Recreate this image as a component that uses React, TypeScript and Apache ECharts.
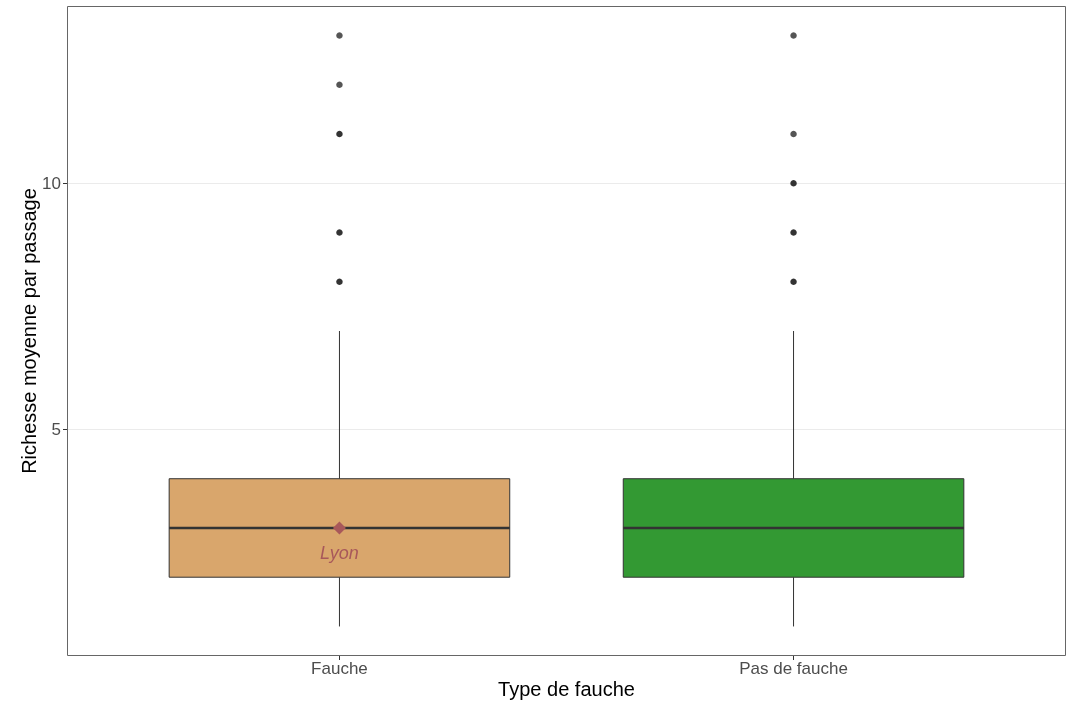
import React, { useEffect, useRef } from "react";
import * as echarts from "echarts";

const categories = ["Fauche", "Pas de fauche"];
// [q1, median, q3, lowerWhisker, upperWhisker]
const boxStats = [
  [2, 3, 4, 1, 7],
  [2, 3, 4, 1, 7],
];
const boxColors = ["#D9A66C", "#339933"];
const outliersFauche = [8, 9, 11, 12, 13];
const outliersPasFauche = [8, 9, 10, 11, 13];
const rareFauche = [12, 13];
const rarePasFauche = [11, 13];
const meanPoint = { category: 1, value: 3, label: "Lyon" };
const yTicks = [5, 10];

export default function App() {
  const ref = useRef<HTMLDivElement>(null);
  useEffect(() => {
    if (!ref.current) return;
    const chart = echarts.init(ref.current, null, { renderer: "svg" });
    const font = "'Liberation Sans', Arial, sans-serif";
    const boxData = boxStats.map((s, i) => [i + 1, ...s]);
    const outlierData: any[] = [];
    outliersFauche.forEach((v) =>
      outlierData.push({ value: [1, v], itemStyle: { color: rareFauche.includes(v) ? "#555555" : "#333333", opacity: 1 } })
    );
    outliersPasFauche.forEach((v) =>
      outlierData.push({ value: [2, v], itemStyle: { color: rarePasFauche.includes(v) ? "#555555" : "#333333", opacity: 1 } })
    );
    chart.setOption({
      animation: false,
      textStyle: { fontFamily: font },
      grid: { left: 67, right: 1, top: 6, bottom: 46, containLabel: false, outerBoundsMode: "none" },
      xAxis: {
        type: "value",
        min: 0.4,
        max: 2.6,
        name: "Type de fauche",
        nameLocation: "middle",
        nameGap: 23,
        nameMoveOverlap: false,
        nameTextStyle: { fontSize: 20, color: "#000", fontFamily: font },
        axisLine: { show: false },
        splitLine: { show: false },
        axisTick: { show: true, customValues: [1, 2], length: 4, lineStyle: { color: "#333" } },
        axisLabel: {
          customValues: [1, 2],
          formatter: (v: number) => categories[Math.round(v) - 1] ?? "",
          fontSize: 17,
          color: "#4d4d4d",
          margin: 4,
          fontFamily: font,
        },
      },
      yAxis: {
        type: "value",
        min: 0.4,
        max: 13.6,
        name: "Richesse moyenne par passage",
        nameLocation: "middle",
        nameGap: 28,
        nameMoveOverlap: false,
        nameTextStyle: { fontSize: 20, color: "#000", fontFamily: font },
        axisLine: { show: false },
        splitLine: { show: true, lineStyle: { color: "#ebebeb", width: 1 } },
        axisTick: { show: true, customValues: yTicks, length: 4, lineStyle: { color: "#333" } },
        axisLabel: {
          customValues: yTicks,
          fontSize: 17,
          color: "#4d4d4d",
          margin: 6,
          fontFamily: font,
        },
      },
      graphic: [
        {
          type: "rect",
          shape: { x: 67.5, y: 6.5, width: 998, height: 649 },
          style: { fill: "none", stroke: "#666", lineWidth: 1 },
          z: 100,
          silent: true,
        },
      ],
      series: [
        {
          type: "custom",
          data: boxData,
          encode: { x: 0, y: [1, 2, 3, 4, 5] },
          z: 2,
          renderItem: (params: any, api: any) => {
            const x = api.value(0);
            const q1 = api.value(1);
            const med = api.value(2);
            const q3 = api.value(3);
            const lo = api.value(4);
            const hi = api.value(5);
            const half = api.size([0.75, 0])[0] / 2;
            const pQ1 = api.coord([x, q1]);
            const pQ3 = api.coord([x, q3]);
            const pMed = api.coord([x, med]);
            const pLo = api.coord([x, lo]);
            const pHi = api.coord([x, hi]);
            const color = boxColors[params.dataIndex];
            return {
              type: "group",
              children: [
                {
                  type: "line",
                  shape: { x1: pQ3[0], y1: pQ3[1], x2: pHi[0], y2: pHi[1] },
                  style: { stroke: "#333", lineWidth: 1 },
                },
                {
                  type: "line",
                  shape: { x1: pQ1[0], y1: pQ1[1], x2: pLo[0], y2: pLo[1] },
                  style: { stroke: "#333", lineWidth: 1 },
                },
                {
                  type: "rect",
                  shape: { x: pQ3[0] - half, y: pQ3[1], width: half * 2, height: pQ1[1] - pQ3[1] },
                  style: { fill: color, stroke: "#333", lineWidth: 1 },
                },
                {
                  type: "line",
                  shape: { x1: pMed[0] - half, y1: pMed[1], x2: pMed[0] + half, y2: pMed[1] },
                  style: { stroke: "#333", lineWidth: 2.5 },
                },
              ],
            };
          },
        },
        {
          type: "scatter",
          data: outlierData,
          symbol: "circle",
          symbolSize: 6.5,
          z: 3,
        },
        {
          type: "scatter",
          data: [[meanPoint.category, meanPoint.value]],
          symbol: "diamond",
          symbolSize: [13, 13],
          itemStyle: { color: "#A8585A", opacity: 1 },
          z: 4,
          label: {
            show: true,
            formatter: meanPoint.label,
            position: "bottom",
            distance: 10,
            fontSize: 18,
            fontStyle: "italic",
            color: "#A8585A",
            fontFamily: font,
          },
        },
      ],
    });
    return () => chart.dispose();
  }, []);
  return (
    <div
      ref={ref}
      style={{ position: "fixed", left: 0, top: 0, width: 1067, height: 702 }}
    />
  );
}
